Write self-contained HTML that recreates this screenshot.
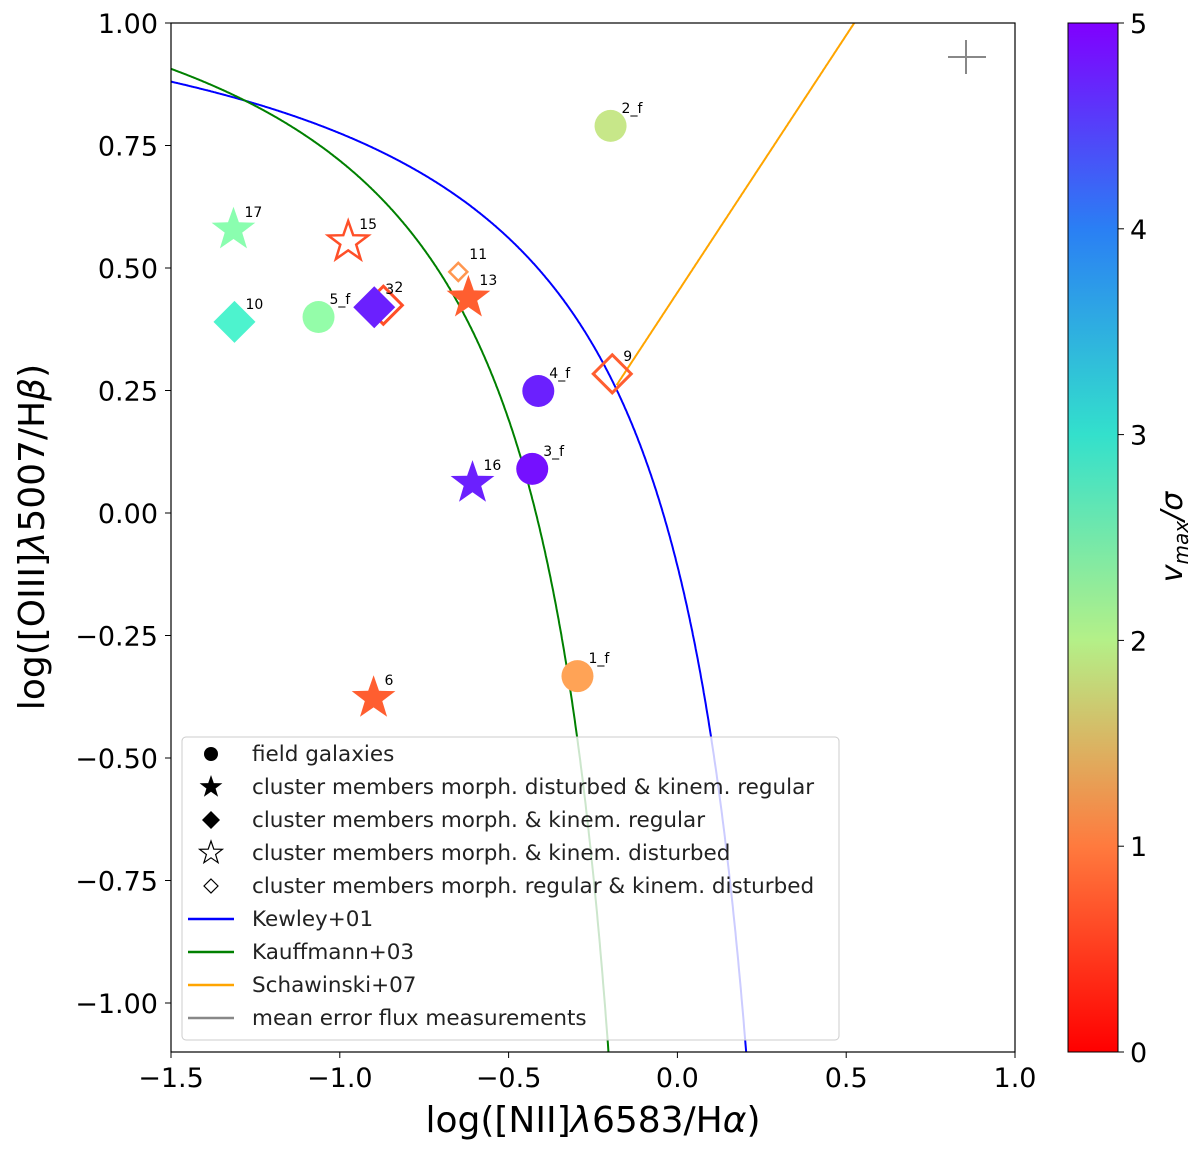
<!DOCTYPE html>
<html><head><meta charset="utf-8"><style>
body{margin:0;background:#fff}
text{font-family:"DejaVu Sans","Liberation Sans",sans-serif}
</style></head><body>
<svg id="c" width="1200" height="1154" xmlns="http://www.w3.org/2000/svg">
<defs>
<linearGradient id="cg" x1="0" y1="1" x2="0" y2="0">
<stop offset="0" stop-color="#ff0000"/><stop offset="0.2" stop-color="#ff7a3e"/><stop offset="0.4" stop-color="#b4f088"/><stop offset="0.6" stop-color="#33e0cc"/><stop offset="0.8" stop-color="#2a7ff4"/><stop offset="1" stop-color="#8000ff"/>
</linearGradient>
<clipPath id="pc"><rect x="171" y="23" width="844" height="1029"/></clipPath>
</defs>
<g id="plot" clip-path="url(#pc)"></g>
<rect x="171" y="23" width="844" height="1029" fill="none" stroke="#000" stroke-width="1.2"/>
<g id="ticks"></g>
<text x="593" y="1132" font-size="36" text-anchor="middle">log([NII]<tspan font-style="italic">λ</tspan>6583/H<tspan font-style="italic">α</tspan>)</text>
<text transform="translate(44,537) rotate(-90)" font-size="36" text-anchor="middle">log([OIII]<tspan font-style="italic">λ</tspan>5007/H<tspan font-style="italic">β</tspan>)</text>
<rect x="1068" y="23" width="50" height="1029" fill="url(#cg)" stroke="#000"/>
<text transform="translate(1182,537) rotate(-90)" font-size="30" text-anchor="middle"><tspan font-style="italic">v</tspan><tspan font-size="20" dy="6" font-style="italic">max</tspan><tspan dy="-6" font-style="italic">/σ</tspan></text>
</svg>
<script>
const names=["2_f","17","15","11","13","2","3","5_f","10","9","4_f","3_f","16","1_f","6"];
const xs=[-0.198,-1.315,-0.975,-0.649,-0.619,-0.871,-0.898,-1.063,-1.312,-0.193,-0.412,-0.43,-0.607,-0.296,-0.9];
const ys=[0.79,0.578,0.553,0.492,0.439,0.424,0.42,0.40,0.39,0.284,0.249,0.09,0.061,-0.333,-0.378];
const vs=[1.8,2.4,0.5,1.0,0.6,0.5,4.8,2.3,3.0,0.6,4.8,4.9,4.8,1.1,0.6];
const kinds=["circle","star","ostar","osdiamond","star","odiamond","diamond","circle","diamond","odiamond","circle","circle","star","circle","star"];
const xTicks=[-1.5,-1.0,-0.5,0.0,0.5,1.0];
const yTicks=[1.0,0.75,0.5,0.25,0.0,-0.25,-0.5,-0.75,-1.0];
const cTicks=[0,1,2,3,4,5];
const NS="http://www.w3.org/2000/svg";
const X=v=>171+(v+1.5)*337.6, Y=v=>513-v*490, C=v=>1052-v/5*1029;
function col(v){const t=1-v/5;const r=Math.min(1,Math.abs(2*t-0.5)),g=Math.sin(Math.PI*t),b=Math.cos(Math.PI*t/2);return `rgb(${Math.round(r*255)},${Math.round(g*255)},${Math.round(b*255)})`;}
function mk(tag,at,par){const e=document.createElementNS(NS,tag);for(const k in at)e.setAttribute(k,at[k]);(par||document.getElementById('plot')).appendChild(e);return e;}
function starPts(cx,cy,R){let p=[];for(let i=0;i<10;i++){const r=i%2?R*0.4:R;const a=-Math.PI/2+i*Math.PI/5;p.push((cx+r*Math.cos(a)).toFixed(1)+","+(cy+r*Math.sin(a)).toFixed(1));}return p.join(" ");}
function dPts(cx,cy,R){return `${cx},${cy-R} ${cx+R},${cy} ${cx},${cy+R} ${cx-R},${cy}`;}
const tk=document.getElementById('ticks');
function curve(f,x0,x1,color,name){let d="";for(let x=x0;x<=x1;x+=0.002){const y=f(x);if(y<-1.3)break;d+=(d?"L":"M")+X(x).toFixed(1)+","+Y(y).toFixed(1);}const e=mk('path',{d:d,fill:'none',stroke:color,'stroke-width':2});}
curve(x=>0.61/(x-0.47)+1.19,-1.5,0.3,'#0000ff','kewley-curve');
curve(x=>0.61/(x-0.05)+1.3,-1.5,0.0,'#008000','kauffmann-curve');
curve(x=>1.05*x+0.45,-0.18,0.6,'#ffa500','schawinski-line');
let ec=mk('path',{d:"M948,57H986M966,40V74",stroke:'#888','stroke-width':2});


for(let i=0;i<names.length;i++){
 const cx=X(xs[i]),cy=Y(ys[i]),c=col(vs[i]),k=kinds[i];let e;
 if(k=="circle")e=mk('circle',{cx:cx,cy:cy,r:16,fill:c});
 else if(k=="star")e=mk('polygon',{points:starPts(cx,cy,23),fill:c});
 else if(k=="ostar")e=mk('polygon',{points:starPts(cx,cy,21),fill:'#fff',stroke:c,'stroke-width':2.5});
 else if(k=="diamond")e=mk('polygon',{points:dPts(cx,cy,21),fill:c});
 else if(k=="odiamond")e=mk('polygon',{points:dPts(cx,cy,19),fill:'none',stroke:c,'stroke-width':3});
 else e=mk('polygon',{points:dPts(cx,cy,9),fill:'#fff',stroke:c,'stroke-width':2.5});
 
 
 const t=mk('text',{x:cx+11,y:cy-13,'font-size':14});t.textContent=names[i];
 
 
}
const lg=mk('g',{},document.getElementById('c'));


mk('rect',{x:182,y:737,width:657,height:303,rx:4,fill:'rgba(255,255,255,0.8)',stroke:'#ccc'},lg);
const lgLabels=["field galaxies","cluster members morph. disturbed & kinem. regular","cluster members morph. & kinem. regular","cluster members morph. & kinem. disturbed","cluster members morph. regular & kinem. disturbed","Kewley+01","Kauffmann+03","Schawinski+07","mean error flux measurements"];
const lgCols=['#0000ff','#008000','#ffa500','#888'];
lgLabels.forEach((s,i)=>{const y=754+i*33,mx=211;
 if(i==0)mk('circle',{cx:mx,cy:y,r:7,fill:'#000'},lg);
 else if(i==1)mk('polygon',{points:starPts(mx,y,12),fill:'#000'},lg);
 else if(i==2)mk('polygon',{points:dPts(mx,y,9),fill:'#000'},lg);
 else if(i==3)mk('polygon',{points:starPts(mx,y,12),fill:'#fff',stroke:'#000','stroke-width':1.2},lg);
 else if(i==4)mk('polygon',{points:dPts(mx,y,7),fill:'#fff',stroke:'#000','stroke-width':1.2},lg);
 else mk('line',{x1:188,x2:234,y1:y,y2:y,stroke:lgCols[i-5],'stroke-width':2.5},lg);
 const t=mk('text',{x:252,y:y+7,'font-size':21.5,fill:'#222'},lg);t.textContent=s;
 
 
});
const fmt=v=>(v<0?"\u2212":"")+Math.abs(v).toFixed(2);
xTicks.forEach(v=>{const x=X(v);mk('line',{x1:x,x2:x,y1:1052,y2:1058,stroke:'#000'},tk);const t=mk('text',{x:x,y:1087,'font-size':27,'text-anchor':'middle'},tk);t.textContent=(v<0?"\u2212":"")+Math.abs(v).toFixed(1);
 
 });
yTicks.forEach(v=>{const y=Y(v);mk('line',{x1:165,x2:171,y1:y,y2:y,stroke:'#000'},tk);const t=mk('text',{x:158,y:y+10,'font-size':27,'text-anchor':'end'},tk);t.textContent=fmt(v);
 
 });
cTicks.forEach(v=>{const y=C(v);mk('line',{x1:1118,x2:1124,y1:y,y2:y,stroke:'#000'},tk);const t=mk('text',{x:1130,y:y+10,'font-size':27},tk);t.textContent=v;
 
 });
</script>
</body></html>
